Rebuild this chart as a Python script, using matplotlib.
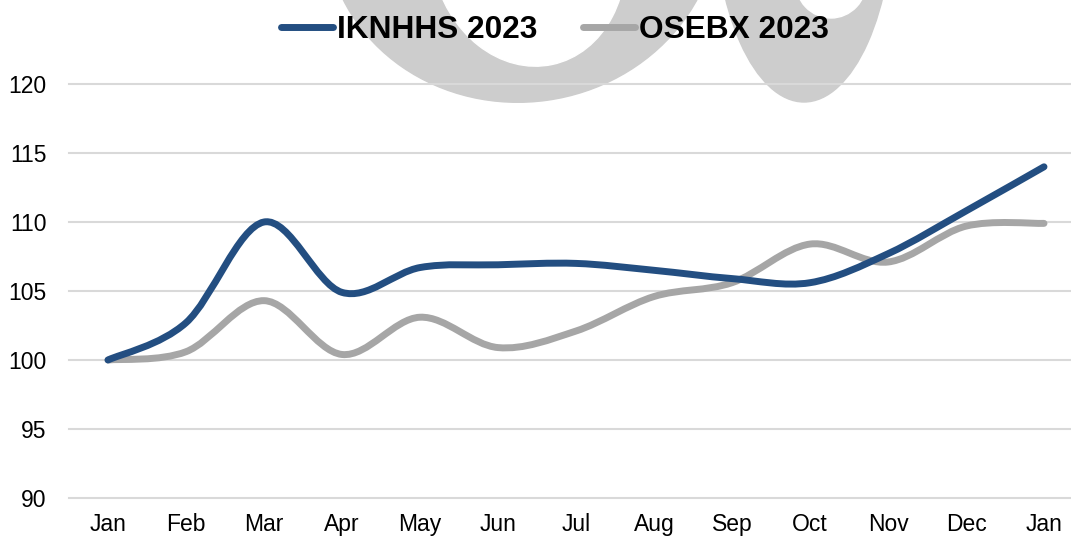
import matplotlib
matplotlib.use("Agg")
import matplotlib.pyplot as plt
from matplotlib.path import Path
from matplotlib.patches import PathPatch, Ellipse
from matplotlib.lines import Line2D

plt.rcParams['font.family'] = ['Liberation Sans', 'DejaVu Sans']

months = ["Jan", "Feb", "Mar", "Apr", "May", "Jun", "Jul", "Aug", "Sep", "Oct", "Nov", "Dec", "Jan"]
iknhhs = [100, 102.7, 110.0, 104.9, 106.7, 106.9, 107.0, 106.5, 105.9, 105.6, 107.7, 110.8, 114.0]
osebx = [100, 100.6, 104.3, 100.4, 103.1, 100.9, 102.1, 104.6, 105.6, 108.4, 107.1, 109.7, 109.9]
yticks = [90, 95, 100, 105, 110, 115, 120]

blue = "#234E81"
grey = "#A6A6A6"


def smooth_path(xs, ys):
    # excel-like smoothed line: catmull-rom turned into cubic beziers
    n = len(xs)
    verts = [(xs[0], ys[0])]
    codes = [Path.MOVETO]
    for i in range(n - 1):
        i0 = max(i - 1, 0)
        i3 = min(i + 2, n - 1)
        c1 = (xs[i] + (xs[i + 1] - xs[i0]) / 6, ys[i] + (ys[i + 1] - ys[i0]) / 6)
        c2 = (xs[i + 1] - (xs[i3] - xs[i]) / 6, ys[i + 1] - (ys[i3] - ys[i]) / 6)
        verts += [c1, c2, (xs[i + 1], ys[i + 1])]
        codes += [Path.CURVE4] * 3
    return Path(verts, codes)


fig = plt.figure(figsize=(10.71, 5.37), dpi=100)

# watermark behind the chart (pixel coords, y down)
bg = fig.add_axes([0, 0, 1, 1], zorder=0)
bg.set_xlim(0, 1071)
bg.set_ylim(537, 0)
bg.axis("off")
wm = "#CDCDCD"
bg.add_patch(Ellipse((522, -80), 2 * 197, 2 * 182, angle=-8, color=wm))
bg.add_patch(Ellipse((528, -50), 2 * 97, 2 * 117, angle=-12, color="white"))
bg.add_patch(Ellipse((804, -100), 2 * 90, 2 * 202, angle=0, color=wm))
bg.add_patch(Ellipse((831, -20), 2 * 36, 2 * 38, angle=0, color="white"))

ax = fig.add_axes([69 / 1071, 39 / 537, 1014 / 1071, 414 / 537], zorder=1)
ax.patch.set_alpha(0)
x = list(range(len(months)))
ax.set_xlim(-0.5, len(months) - 0.5)
ax.set_ylim(90, 120)

for series, col in [(osebx, grey), (iknhhs, blue)]:
    p = PathPatch(smooth_path(x, series), facecolor="none", edgecolor=col, lw=5,
                  capstyle="round", joinstyle="round", zorder=3)
    p.set_clip_on(False)
    ax.add_patch(p)

ax.set_yticks(yticks)
ax.set_xticks(x)
ax.set_xticklabels(months)
ax.grid(axis="y", color="#D9D9D9", lw=1.5, zorder=1)
ax.set_axisbelow(True)
for s in ax.spines.values():
    s.set_visible(False)
ax.tick_params(axis="y", length=0, pad=16, labelsize=16.5, labelcolor="#000000")
ax.tick_params(axis="x", length=0, pad=11, labelsize=16.5, labelcolor="#000000")
for gl in ax.get_ygridlines():
    gl.set_clip_on(False)

handles = [Line2D([], [], color=blue, lw=5, solid_capstyle="round"),
           Line2D([], [], color=grey, lw=5, solid_capstyle="round")]
fig.legend(handles, ["IKNHHS 2023", "OSEBX 2023"], loc="center",
           bbox_to_anchor=(555 / 1071, 1 - 30 / 537), ncol=2, frameon=False,
           prop={"weight": "bold", "size": 22.8}, handlelength=1.65,
           handletextpad=0.13, columnspacing=1.42, borderpad=0)

fig.savefig("out.png", dpi=100)
